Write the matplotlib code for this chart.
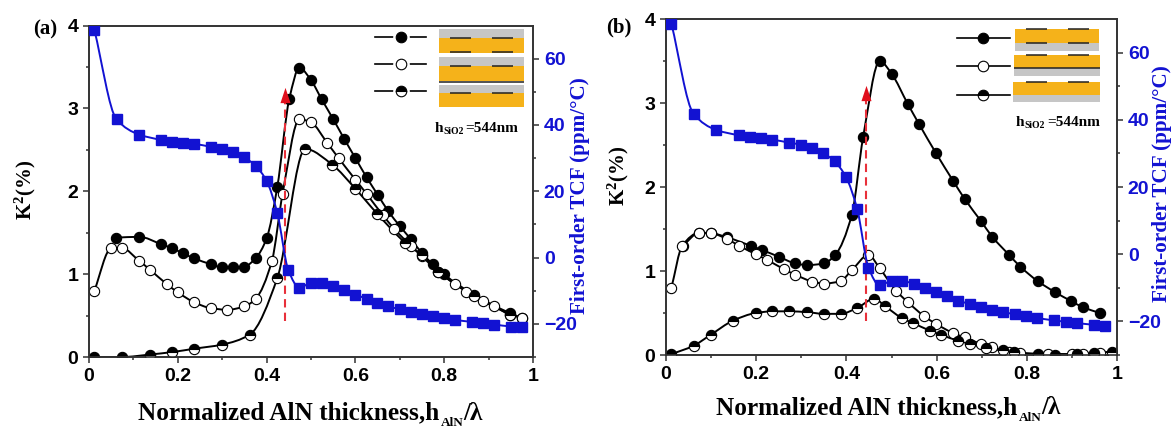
import matplotlib
matplotlib.use("Agg")
import numpy as np
import matplotlib.pyplot as plt
from matplotlib.path import Path
from matplotlib.patches import PathPatch, Rectangle

plt.rcParams['font.family'] = ['Liberation Sans', 'DejaVu Sans']
plt.rcParams['mathtext.fontset'] = 'custom'
plt.rcParams['mathtext.bf'] = 'Liberation Serif:bold'
plt.rcParams['mathtext.rm'] = 'Liberation Serif:bold'
plt.rcParams['mathtext.default'] = 'bf'

# panel (a)
a_full_x = [.06, .113, .163, .188, .212, .237, .274, .30, .325, .35, .375, .40, .424, .451, .474, .50, .524, .55, .575, .60, .625, .65, .674, .70, .725, .749, .774, .799, .867, .948, .975]
a_full_y = [1.44, 1.45, 1.36, 1.31, 1.25, 1.19, 1.12, 1.08, 1.08, 1.09, 1.19, 1.43, 2.05, 3.11, 3.49, 3.34, 3.11, 2.87, 2.63, 2.40, 2.17, 1.96, 1.76, 1.58, 1.42, 1.26, 1.12, 1.00, .75, .53, .47]
a_open_x = [.012, .05, .075, .113, .138, .175, .20, .237, .274, .311, .35, .375, .412, .436, .474, .50, .537, .562, .60, .625, .662, .687, .725, .749, .787, .824, .85, .888, .912, .949, .975]
a_open_y = [.80, 1.31, 1.31, 1.16, 1.05, .88, .78, .66, .59, .57, .61, .70, 1.16, 1.97, 2.87, 2.83, 2.58, 2.40, 2.14, 1.97, 1.71, 1.55, 1.34, 1.22, 1.03, .88, .79, .67, .61, .51, .47]
a_half_x = [.012, .075, .138, .188, .237, .30, .362, .424, .487, .548, .60, .649, .712, .75, .787, .867, .949]
a_half_y = [0, 0, .03, .06, .10, .15, .27, .95, 2.51, 2.32, 2.03, 1.73, 1.38, 1.23, 1.03, .74, .51]
a_tcf_x = [.012, .062, .113, .163, .188, .212, .237, .274, .30, .325, .35, .375, .40, .424, .449, .474, .50, .524, .549, .575, .60, .625, .649, .674, .70, .725, .749, .774, .80, .824, .862, .887, .912, .95, .975]
a_tcf_y = [68.7, 41.7, 37.1, 35.5, 35, 34.6, 34.3, 33.4, 32.8, 31.7, 30.2, 27.7, 23.1, 13.5, -3.8, -9.1, -7.7, -7.7, -8.6, -9.9, -11.2, -12.4, -13.6, -14.7, -15.6, -16.4, -17, -17.7, -18.3, -18.8, -19.4, -19.7, -20.2, -20.8, -21.1]

# panel (b)
b_full_x = [.037, .074, .10, .136, .188, .213, .25, .287, .313, .35, .375, .412, .437, .474, .50, .536, .561, .599, .637, .662, .699, .723, .761, .786, .824, .862, .899, .924, .962]
b_full_y = [1.30, 1.455, 1.45, 1.40, 1.30, 1.25, 1.17, 1.09, 1.07, 1.09, 1.19, 1.67, 2.59, 3.50, 3.35, 2.99, 2.75, 2.40, 2.07, 1.86, 1.59, 1.41, 1.19, 1.05, .88, .75, .64, .57, .50]
b_open_x = [.012, .036, .074, .099, .136, .162, .199, .225, .262, .287, .324, .35, .387, .412, .449, .474, .511, .536, .573, .599, .637, .662, .699, .723, .76, .786, .848, .90, .924, .962]
b_open_y = [.80, 1.30, 1.455, 1.45, 1.38, 1.30, 1.20, 1.13, 1.02, .955, .875, .85, .88, 1.01, 1.19, 1.03, .76, .63, .46, .37, .26, .21, .13, .09, .04, .02, .015, .01, .01, .02]
b_half_x = [.012, .061, .099, .149, .199, .236, .273, .313, .35, .387, .424, .462, .486, .523, .548, .585, .61, .648, .673, .71, .748, .772, .824, .862, .911, .949, .988]
b_half_y = [.01, .11, .24, .41, .50, .52, .52, .51, .49, .49, .56, .67, .58, .44, .38, .29, .24, .17, .135, .08, .055, .035, .01, .005, .015, .025, .04]
b_tcf_x = [.012, .061, .111, .162, .187, .211, .236, .273, .299, .324, .349, .374, .399, .424, .449, .474, .50, .524, .549, .574, .599, .623, .648, .673, .698, .723, .748, .773, .798, .823, .86, .886, .911, .948, .973]
b_tcf_y = [68.6, 41.8, 37, 35.4, 34.9, 34.5, 34.1, 33.2, 32.6, 31.6, 30.1, 27.6, 23, 13.4, -4, -9.3, -8, -8, -8.8, -10.1, -11.3, -12.5, -13.8, -14.8, -15.7, -16.5, -17.2, -17.9, -18.5, -19, -19.7, -20.1, -20.5, -21, -21.3]

x_ticks = [0, 0.2, 0.4, 0.6, 0.8, 1]
x_labels = ['0', '0.2', '0.4', '0.6', '0.8', '1']
k_ticks = [0, 1, 2, 3, 4]
tcf_ticks = [-20, 0, 20, 40, 60]

W, H = 1173, 430
BLUE = '#1212d2'
DARK = '#333333'
GRAY = '#c6c6c6'
ORANGE = '#f5b21a'
SERIF = ['Liberation Serif', 'DejaVu Serif']


def smooth(ax, x, y, color, lw=1.4):
    # bezier path through the read points, monotone tangents so peaks do not overshoot
    x = np.array(x, float)
    y = np.array(y, float)
    h = np.diff(x)
    s = np.diff(y) / h
    m = np.zeros(len(x))
    m[0], m[-1] = s[0], s[-1]
    for i in range(1, len(x) - 1):
        if s[i - 1] * s[i] > 0:
            w1 = 2 * h[i] + h[i - 1]
            w2 = h[i] + 2 * h[i - 1]
            m[i] = (w1 + w2) / (w1 / s[i - 1] + w2 / s[i])
    verts = [(x[0], y[0])]
    for i in range(len(x) - 1):
        verts.append((x[i] + h[i] / 3, y[i] + m[i] * h[i] / 3))
        verts.append((x[i + 1] - h[i] / 3, y[i + 1] - m[i + 1] * h[i] / 3))
        verts.append((x[i + 1], y[i + 1]))
    codes = [Path.MOVETO] + [Path.CURVE4] * (len(verts) - 1)
    ax.add_patch(PathPatch(Path(verts, codes), fill=False, ec=color, lw=lw, zorder=2))


def marks(ax, x, y, kind):
    st = dict(ls='none', marker='o', ms=7.4, mew=0.8, mec='black', zorder=3)
    if kind == 'full':
        ax.plot(x, y, mfc='black', **st)
    elif kind == 'open':
        ax.plot(x, y, mfc='white', **st)
    else:
        ax.plot(x, y, fillstyle='top', mfc='black', markerfacecoloralt='white', **st)


def panel(box, series, tcf, arrow):
    l, t, r, b = box
    ax = fig.add_axes([l / W, 1 - b / H, (r - l) / W, (b - t) / H])
    ax.set_xlim(0, 1)
    ax.set_ylim(0, 4)
    for (x, y), kind in zip(series, ['full', 'open', 'half']):
        smooth(ax, x, y, 'black')
        marks(ax, x, y, kind)
    ax.set_xticks(x_ticks, x_labels)
    ax.set_xticks(np.arange(0.1, 1, 0.2), minor=True)
    ax.set_yticks(k_ticks)
    ax.set_yticks(np.arange(0.5, 4, 1), minor=True)
    ax.tick_params(which='major', length=4.3, width=1.1, color=DARK, labelsize=14, pad=3.5)
    ax.tick_params(which='minor', length=2.4, width=1.1, color=DARK)
    for lab in ax.get_xticklabels() + ax.get_yticklabels():
        lab.set_fontweight('bold')

    ax2 = ax.twinx()
    ax2.set_ylim(-30, 70)
    smooth(ax2, tcf[0], tcf[1], BLUE)
    ax2.plot(tcf[0], tcf[1], ls='none', marker='s', ms=7, mfc=BLUE, mec=BLUE, zorder=3)
    ax2.set_yticks(tcf_ticks)
    ax2.set_yticks(np.arange(-30, 70, 20), minor=True)
    ax2.tick_params(which='major', length=4.3, width=1.1, color=DARK, labelsize=14,
                    labelcolor=BLUE, pad=3.5)
    ax2.tick_params(which='minor', length=2.4, width=1.1, color=DARK)
    for lab in ax2.get_yticklabels():
        lab.set_fontweight('bold')
    for a in (ax, ax2):
        for s in a.spines.values():
            s.set_linewidth(1.2)
            s.set_color(DARK)

    # red dashed marker
    ax2.plot([arrow[0], arrow[0]], [arrow[1], arrow[2]], color='#e8303a', lw=1.5,
             ls=(0, (4, 2.5)), zorder=1)
    ax2.plot([arrow[0]], [arrow[2]], marker=[(-.33, -.5), (.33, -.5), (0, .5)], ms=11,
             color='#e00f1c', mew=0, zorder=1)


fig = plt.figure(figsize=(W / 100, H / 100), dpi=100)

panel((89, 25.5, 533, 357),
      [(a_full_x, a_full_y), (a_open_x, a_open_y), (a_half_x, a_half_y)],
      (a_tcf_x, a_tcf_y), (.442, -19, 49))
panel((666, 19, 1117, 355),
      [(b_full_x, b_full_y), (b_open_x, b_open_y), (b_half_x, b_half_y)],
      (b_tcf_x, b_tcf_y), (.443, -20, 48))

# overlay in image pixels for texts and the little layer sketches
ov = fig.add_axes([0, 0, 1, 1], zorder=10)
ov.set_xlim(0, W)
ov.set_ylim(H, 0)
ov.axis('off')


def rect(x0, y0, x1, y1, color):
    ov.add_patch(Rectangle((x0, y0), x1 - x0, y1 - y0, fc=color, ec='none'))


def bars(xs, y):
    for x0, x1 in xs:
        ov.plot([x0, x1], [y, y], color='#222222', lw=1.1, solid_capstyle='butt')


def key(x0, x1, xm, y, kind, halo=False):
    ov.plot([x0, x1], [y, y], color='black', lw=1.2)
    if halo:
        ov.plot([xm], [y], ls='none', marker='o', ms=12, mew=0, mfc='white')
    st = dict(ls='none', marker='o', ms=7.6, mew=0.8, mec='black')
    if kind == 'half':
        ov.plot([xm], [y], fillstyle='top', mfc='black', markerfacecoloralt='white', **st)
    else:
        ov.plot([xm], [y], mfc='black' if kind == 'full' else 'white', **st)


# legend (a)
pa = [(450, 471), (492, 513)]
rect(439, 29, 524, 38, GRAY); rect(439, 38, 524, 53, ORANGE)
bars(pa, 37.5); bars(pa, 52)
rect(439, 57, 524, 66, GRAY); rect(439, 66, 524, 81, ORANGE)
bars(pa, 65.5); bars([(439, 524)], 81.5)
rect(439, 85, 524, 93, GRAY); rect(439, 93, 524, 107, ORANGE)
bars(pa, 92.5)
key(375, 426, 401, 37, 'full', True)
key(375, 426, 401, 64, 'open', True)
key(375, 426, 401, 91, 'half', True)

# legend (b)
pb = [(1026, 1047), (1068, 1089)]
rect(1015, 29, 1099, 43, ORANGE); rect(1015, 43, 1099, 51, GRAY)
bars(pb, 29); bars(pb, 42.5)
rect(1014, 55, 1100, 68, ORANGE); rect(1014, 68, 1100, 76, GRAY)
bars(pb, 54.5); bars([(1014, 1100)], 67.5)
rect(1013, 82, 1100, 95, ORANGE); rect(1013, 95, 1100, 102, GRAY)
bars(pb, 81.5)
key(957, 1010, 983, 37.5, 'full')
key(957, 1010, 983, 66, 'open')
key(957, 1010, 983, 95, 'half')

txt = dict(family=SERIF, fontweight='bold', ha='center', va='center')
ov.text(45, 29, '(a)', fontsize=15, **txt)
ov.text(619, 27, '(b)', fontsize=15, **txt)
ov.text(25, 190, r'K$^{\mathbf{2}}$(%)', fontsize=15, rotation=90, **txt)
ov.text(618, 176, r'K$^{\mathbf{2}}$(%)', fontsize=15, rotation=90, **txt)
ov.text(580, 196, 'First-order TCF (ppm/°C)', fontsize=15.2, rotation=90, color=BLUE, **txt)
ov.text(1162, 184, 'First-order TCF (ppm/°C)', fontsize=15.2, rotation=90, color=BLUE, **txt)

lab = dict(family=SERIF, fontweight='bold', va='center')
for dx, dy in [(0, 0), (578, -5)]:
    ov.text(138 + dx, 413 + dy, 'Normalized AlN thickness,h', fontsize=18.2, ha='left', **lab)
    ov.text(452 + dx, 423 + dy, 'AlN', fontsize=9.5, ha='center', **lab)
    ov.text(463 + dx, 413 + dy, '/λ', fontsize=18.2, ha='left', **lab)

ov.text(435, 128, 'h', fontsize=11, ha='left', **lab)
ov.text(443, 132, 'SiO2', fontsize=7, ha='left', **lab)
ov.text(465, 128, '=544nm', fontsize=11, ha='left', **lab)
ov.text(1016, 122, 'h', fontsize=11, ha='left', **lab)
ov.text(1024, 126, 'SiO2', fontsize=7, ha='left', **lab)
ov.text(1047, 122, '=544nm', fontsize=11, ha='left', **lab)

fig.savefig('out.png', dpi=100)
